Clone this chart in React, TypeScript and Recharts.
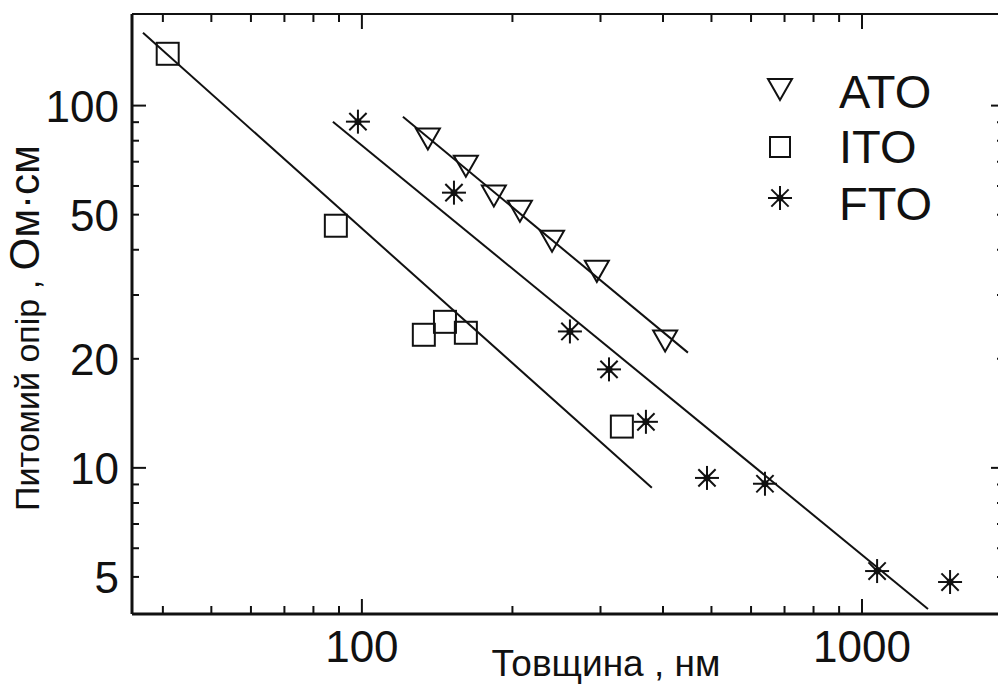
import { ScatterChart, Scatter, XAxis, YAxis, Legend } from 'recharts';

const FONT = '"Liberation Sans", Arial, Helvetica, sans-serif';
const INK = '#111';

// measured points (thickness nm, resistivity Ohm*cm)
const atoPts = [
  { x: 135.5, y: 81.6 },
  { x: 161.4, y: 68.7 },
  { x: 183.6, y: 56.8 },
  { x: 207, y: 51.6 },
  { x: 240, y: 42.6 },
  { x: 295, y: 35.2 },
  { x: 404, y: 22.6 },
];

const itoPts = [
  { x: 40.9, y: 139 },
  { x: 88.7, y: 46.6 },
  { x: 133, y: 23.3 },
  { x: 146.6, y: 25.3 },
  { x: 161.4, y: 23.6 },
  { x: 331, y: 13.0 },
];

const ftoPts = [
  { x: 98.2, y: 90.3 },
  { x: 152.8, y: 57.5 },
  { x: 260.6, y: 23.8 },
  { x: 312, y: 18.7 },
  { x: 369.8, y: 13.4 },
  { x: 489.8, y: 9.38 },
  { x: 639.7, y: 9.04 },
  { x: 1072, y: 5.19 },
  { x: 1500, y: 4.84 },
];

// fitted lines (end points)
const atoFit = [{ x: 120.8, y: 93.2 }, { x: 448.7, y: 20.8 }];
const itoFit = [{ x: 36.5, y: 159 }, { x: 380, y: 8.81 }];
const ftoFit = [{ x: 87.5, y: 90.3 }, { x: 1355, y: 4.08 }];

const xDomain = [34.7, 1914];
const yDomain = [3.95, 179];
const xTicks = [40, 50, 60, 70, 80, 90, 100, 200, 300, 400, 500, 600, 700, 800, 900, 1000];
const xLabels = [100, 1000];
const yTicks = [5, 6, 7, 8, 9, 10, 20, 30, 40, 50, 60, 70, 80, 90, 100];
const yLabels = [5, 10, 20, 50, 100];
const yMajor = [10, 100];

const Tri = (p: any) => {
  const { cx, cy } = p;
  return (
    <path
      d={`M${cx - 12},${cy - 9}L${cx + 12},${cy - 9}L${cx},${cy + 12}Z`}
      fill="none"
      stroke={INK}
      strokeWidth={2}
    />
  );
};

const Sq = (p: any) => {
  const { cx, cy } = p;
  return <rect x={cx - 11} y={cy - 11} width={22} height={22} fill="none" stroke={INK} strokeWidth={2} />;
};

const Star = (p: any) => {
  const { cx, cy } = p;
  const r = 12;
  const d = r * 0.72;
  return (
    <g stroke={INK} strokeWidth={2}>
      <line x1={cx} y1={cy - r} x2={cx} y2={cy + r} />
      <line x1={cx - r} y1={cy} x2={cx + r} y2={cy} />
      <line x1={cx - d} y1={cy - d} x2={cx + d} y2={cy + d} />
      <line x1={cx - d} y1={cy + d} x2={cx + d} y2={cy - d} />
      <circle cx={cx} cy={cy} r={2.5} fill={INK} />
    </g>
  );
};

const NoDot = () => <g />;

const BottomTick = (p: any) => {
  const { x, y, payload } = p;
  const major = xLabels.includes(payload.value);
  return (
    <g>
      <line x1={x} y1={y} x2={x} y2={y - (major ? 15 : 8)} stroke={INK} strokeWidth={2} />
      {major && (
        <text x={x} y={y + 48} textAnchor="middle" fontSize={44} fontFamily={FONT} fill={INK}>
          {payload.value}
        </text>
      )}
    </g>
  );
};

const TopTick = (p: any) => {
  const { x, y, payload } = p;
  const major = xLabels.includes(payload.value);
  return <line x1={x} y1={y} x2={x} y2={y + (major ? 15 : 8)} stroke={INK} strokeWidth={2} />;
};

const LeftTick = (p: any) => {
  const { x, y, payload } = p;
  const major = yMajor.includes(payload.value);
  return (
    <g>
      <line x1={x} y1={y} x2={x + (major ? 14 : 7)} y2={y} stroke={INK} strokeWidth={2} />
      {yLabels.includes(payload.value) && (
        <text x={x - 13} y={y + 16} textAnchor="end" fontSize={44} fontFamily={FONT} fill={INK}>
          {payload.value}
        </text>
      )}
    </g>
  );
};

const RightTick = (p: any) => {
  const { x, y, payload } = p;
  const major = yMajor.includes(payload.value);
  return <line x1={x} y1={y} x2={x - (major ? 12 : 6)} y2={y} stroke={INK} strokeWidth={2} />;
};

const yTitle = (props: any) => {
  const vb = props.viewBox || { x: 131, y: 14, width: 1, height: 600 };
  const tx = vb.x + (vb.width || 0) - 93;
  const ty = vb.y + vb.height / 2 + 14;
  return (
    <text
      x={tx}
      y={ty}
      transform={`rotate(-90 ${tx} ${ty})`}
      textAnchor="middle"
      fontFamily={FONT}
      fill={INK}
    >
      <tspan fontSize={34}>Питомий опір , </tspan>
      <tspan fontSize={42}>Ом·см</tspan>
    </text>
  );
};

const xTitle = (props: any) => {
  const vb = props.viewBox || { x: 132, y: 614, width: 871 };
  return (
    <text x={606} y={vb.y + 62} textAnchor="middle" fontSize={37} fontFamily={FONT} fill={INK}>
      Товщина , нм
    </text>
  );
};

const legendRows = [
  { name: 'ATO', Icon: Tri, iy: 28, ty: 48 },
  { name: 'ITO', Icon: Sq, iy: 87, ty: 103 },
  { name: 'FTO', Icon: Star, iy: 138, ty: 160 },
];

const LegendBox = () => (
  <svg width={200} height={170}>
    {legendRows.map((r) => (
      <g key={r.name}>
        {r.name === 'ITO' ? (
          <rect x={10} y={r.iy - 10} width={20} height={20} fill="none" stroke={INK} strokeWidth={2} />
        ) : (
          <r.Icon cx={20} cy={r.iy} />
        )}
        <text x={79} y={r.ty} fontSize={47} fontFamily={FONT} fill={INK}>
          {r.name}
        </text>
      </g>
    ))}
  </svg>
);

export default function App() {
  return (
    <div
      style={{
        position: 'fixed',
        left: 0,
        top: 0,
        width: 998,
        height: 690,
        overflow: 'hidden',
        background: '#fff',
      }}
    >
      <ScatterChart width={1010} height={690} margin={{ top: 13, right: 6, bottom: 75, left: 131 }}>
        <XAxis
          type="number"
          dataKey="x"
          scale="log"
          domain={xDomain}
          allowDataOverflow
          ticks={xTicks}
          interval={0}
          height={1}
          tickSize={0}
          tickMargin={0}
          tick={BottomTick}
          axisLine={{ stroke: INK, strokeWidth: 3 }}
          label={xTitle}
        />
        <XAxis
          xAxisId="top"
          orientation="top"
          type="number"
          dataKey="x"
          scale="log"
          domain={xDomain}
          allowDataOverflow
          ticks={xTicks}
          interval={0}
          height={1}
          tickSize={0}
          tickMargin={0}
          tick={TopTick}
          axisLine={{ stroke: INK, strokeWidth: 2 }}
        />
        <YAxis
          type="number"
          dataKey="y"
          scale="log"
          domain={yDomain}
          allowDataOverflow
          ticks={yTicks}
          interval={0}
          width={1}
          tickSize={0}
          tickMargin={0}
          tick={LeftTick}
          axisLine={{ stroke: INK, strokeWidth: 3 }}
          label={yTitle}
        />
        <YAxis
          yAxisId="right"
          orientation="right"
          type="number"
          dataKey="y"
          scale="log"
          domain={yDomain}
          allowDataOverflow
          ticks={yTicks}
          interval={0}
          width={1}
          tickSize={0}
          tickMargin={0}
          tick={RightTick}
          axisLine={{ stroke: INK, strokeWidth: 2 }}
        />
        <Scatter name="ITO fit" data={itoFit} line={{ stroke: INK, strokeWidth: 2 }} shape={NoDot} legendType="none" isAnimationActive={false} />
        <Scatter name="FTO fit" data={ftoFit} line={{ stroke: INK, strokeWidth: 2 }} shape={NoDot} legendType="none" isAnimationActive={false} />
        <Scatter name="ATO fit" data={atoFit} line={{ stroke: INK, strokeWidth: 2 }} shape={NoDot} legendType="none" isAnimationActive={false} />
        <Scatter name="ATO" data={atoPts} shape={Tri} isAnimationActive={false} />
        <Scatter name="ITO" data={itoPts} shape={Sq} isAnimationActive={false} />
        <Scatter name="FTO" data={ftoPts} shape={Star} isAnimationActive={false} />
        <Legend
          layout="vertical"
          align="center"
          verticalAlign="middle"
          content={LegendBox}
          wrapperStyle={{ left: 760, top: 60, width: 200, height: 170 }}
        />
      </ScatterChart>
    </div>
  );
}
